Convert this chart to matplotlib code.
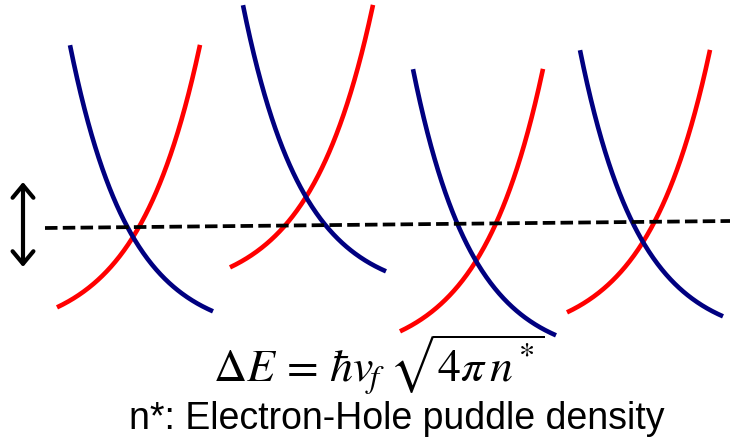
import numpy as np
import matplotlib.pyplot as plt

plt.rcParams['mathtext.fontset'] = 'stix'
plt.rcParams['lines.scale_dashes'] = False

# crossing points (Dirac points) of each puddle, in pixel-like units (y down)
cross_x = [133, 306, 476, 643]
cross_y = [237, 197, 261, 242]

# horizontal reach of each branch relative to its crossing point
blue_span = (-63, 80)
red_span = (-76, 67)

# Fermi level (dashed) end points
fermi_x = [45, 730]
fermi_y = [228, 221]

BLUE = '#000080'
RED = '#ff0000'
SCALE = 100.0


def branch(xc, yc, span, k, sign):
    x = np.linspace(xc + span[0], xc + span[1], 200)
    y = yc - SCALE * (np.exp(sign * k * (x - xc)) - 1.0)
    return x, y


fig = plt.figure(figsize=(7.3, 4.42), dpi=100)
ax = fig.add_axes([0, 0, 1, 1])
ax.set_xlim(0, 730)
ax.set_ylim(442, 0)
ax.axis('off')

for xc, yc in zip(cross_x, cross_y):
    xr, yr = branch(xc, yc, red_span, 0.016, 1)
    ax.plot(xr, yr, color=RED, lw=3.3, solid_capstyle='butt')
    xb, yb = branch(xc, yc, blue_span, 0.017, -1)
    ax.plot(xb, yb, color=BLUE, lw=3.3, solid_capstyle='butt')

ax.plot(fermi_x, fermi_y, color='black', lw=2.7, dashes=(9, 3.8), zorder=5)

# fluctuation of the local potential
ax.annotate('', xy=(23, 182), xytext=(23, 267),
            arrowprops=dict(arrowstyle='<->, head_length=0.9, head_width=0.75',
                            color='black', lw=3.0, shrinkA=0, shrinkB=0))

ax.text(213, 383, r'$\Delta E\, =\, \hbar v_{\!f}\;\sqrt{4\pi\, n\,^{*}}$', fontsize=33,
        ha='left', va='baseline', color='black')
ax.text(129, 429, 'n*: Electron-Hole puddle density', fontsize=27,
        family='Liberation Sans', ha='left', va='baseline', color='black')

fig.savefig('out.png', dpi=100, facecolor='white')
